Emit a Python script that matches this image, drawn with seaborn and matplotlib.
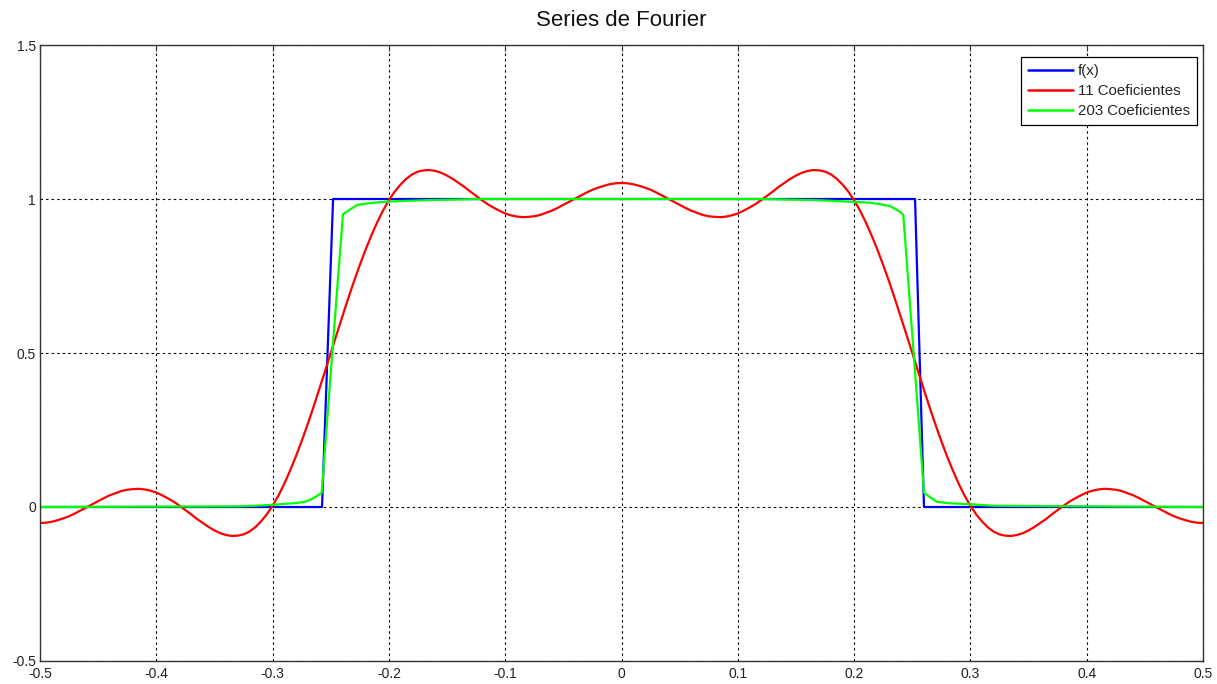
import numpy as np
import pandas as pd
import matplotlib
matplotlib.use("Agg")
import matplotlib.pyplot as plt
import seaborn as sns

# ---------------- data ----------------
title = "Series de Fourier"
labels = ["f(x)", "11 Coeficientes", "203 Coeficientes"]

# f(x): square pulse
x_f = [-0.5, -0.2575, -0.248, 0.2524, 0.2601, 0.5]
y_f = [0.0, 0.0, 1.0, 1.0, 0.0, 0.0]

# 11 coefficients (sampled every 0.005 from -0.5 to 0.5)
x_11 = np.linspace(-0.5, 0.5, 201)
y_11 = [
    # -0.5 ... -0.005
    -0.052, -0.051, -0.048, -0.043, -0.037, -0.030, -0.021, -0.011, -0.001, 0.009,
    0.019, 0.029, 0.038, 0.045, 0.052, 0.056, 0.058, 0.059, 0.057, 0.053,
    0.047, 0.038, 0.028, 0.017, 0.004, -0.010, -0.024, -0.039, -0.052, -0.065,
    -0.076, -0.085, -0.091, -0.094, -0.093, -0.089, -0.080, -0.066, -0.047, -0.024,
    0.004, 0.037, 0.075, 0.118, 0.164, 0.214, 0.267, 0.323, 0.381, 0.440,
    0.500, 0.560, 0.619, 0.677, 0.733, 0.786, 0.836, 0.882, 0.925, 0.963,
    0.996, 1.024, 1.047, 1.066, 1.080, 1.089, 1.093, 1.094, 1.091, 1.085,
    1.076, 1.065, 1.052, 1.039, 1.024, 1.010, 0.996, 0.983, 0.972, 0.962,
    0.953, 0.947, 0.943, 0.941, 0.942, 0.944, 0.948, 0.955, 0.962, 0.971,
    0.981, 0.991, 1.001, 1.011, 1.021, 1.030, 1.037, 1.043, 1.048, 1.051,
    # 0
    1.052,
    # 0.005 ... 0.5
    1.051, 1.048, 1.043, 1.037, 1.030, 1.021, 1.011, 1.001, 0.991, 0.981,
    0.971, 0.962, 0.955, 0.948, 0.944, 0.942, 0.941, 0.943, 0.947, 0.953,
    0.962, 0.972, 0.983, 0.996, 1.010, 1.024, 1.039, 1.052, 1.065, 1.076,
    1.085, 1.091, 1.094, 1.093, 1.089, 1.080, 1.066, 1.047, 1.024, 0.996,
    0.963, 0.925, 0.882, 0.836, 0.786, 0.733, 0.677, 0.619, 0.560, 0.500,
    0.440, 0.381, 0.323, 0.267, 0.214, 0.164, 0.118, 0.075, 0.037, 0.004,
    -0.024, -0.047, -0.066, -0.080, -0.089, -0.093, -0.094, -0.091, -0.085, -0.076,
    -0.065, -0.052, -0.039, -0.024, -0.010, 0.004, 0.017, 0.028, 0.038, 0.047,
    0.053, 0.057, 0.059, 0.058, 0.056, 0.052, 0.045, 0.038, 0.029, 0.019,
    0.009, -0.001, -0.011, -0.021, -0.030, -0.037, -0.043, -0.048, -0.051, -0.052,
]

# 203 coefficients
x_203 = [-0.5, -0.33, -0.31, -0.2936, -0.2793, -0.2721, -0.265, -0.2578, -0.2487,
         -0.2395, -0.2272, -0.2157, -0.1985, -0.17, -0.12, 0.12, 0.17, 0.2137,
         0.2223, 0.2309, 0.2394, 0.2423, 0.2512, 0.2601, 0.2710, 0.2825, 0.2997,
         0.32, 0.5]
y_203 = [0.0, 0.002, 0.005, 0.009, 0.013, 0.017, 0.028, 0.046, 0.5,
         0.951, 0.981, 0.987, 0.992, 0.996, 1.0, 1.0, 0.996, 0.988,
         0.983, 0.977, 0.959, 0.948, 0.5, 0.046, 0.017, 0.012, 0.009,
         0.004, 0.0]

x_ticks = [-0.5, -0.4, -0.3, -0.2, -0.1, 0, 0.1, 0.2, 0.3, 0.4, 0.5]
x_ticklabels = ["-0.5", "-0.4", "-0.3", "-0.2", "-0.1", "0", "0.1", "0.2", "0.3", "0.4", "0.5"]
y_ticks = [-0.5, 0, 0.5, 1, 1.5]
y_ticklabels = ["-0.5", "0", "0.5", "1", "1.5"]

colors = ["#0000ff", "#ff0000", "#00ff00"]

# ---------------- plot ----------------
sns.set_style("white")
plt.rcParams["font.family"] = ["Liberation Sans", "DejaVu Sans"]

fig = plt.figure(figsize=(12.17, 6.84), dpi=100)
ax = fig.add_axes([40 / 1217, 1 - 661 / 684, (1203 - 40) / 1217, (661 - 45) / 684])

sns.lineplot(x=x_f, y=y_f, ax=ax, color=colors[0], lw=1.6, label=labels[0],
             sort=False, estimator=None)
sns.lineplot(x=x_11, y=y_11, ax=ax, color=colors[1], lw=1.6, label=labels[1],
             sort=False, estimator=None)
sns.lineplot(x=x_203, y=y_203, ax=ax, color=colors[2], lw=1.6, label=labels[2],
             sort=False, estimator=None)

ax.set_xlim(-0.5, 0.5)
ax.set_ylim(-0.5, 1.5)
ax.set_xticks(x_ticks)
ax.set_xticklabels(x_ticklabels)
ax.set_yticks(y_ticks)
ax.set_yticklabels(y_ticklabels)
ax.set_xlabel("")
ax.set_ylabel("")

ax.grid(True, color="black", linestyle=(0, (2.2, 2.8)), linewidth=0.8)
ax.set_axisbelow(True)
ax.tick_params(axis="both", direction="in", length=4, width=0.8, colors="#333333",
               labelsize=10, labelcolor="#222222", top=True, right=True)
ax.tick_params(axis="x", pad=4)
ax.tick_params(axis="y", pad=3)
for s in ax.spines.values():
    s.set_visible(True)
    s.set_color("#333333")
    s.set_linewidth(1.0)

ax.set_title(title, fontsize=16, pad=14, color="#111111")

leg = ax.legend(loc="upper right", bbox_to_anchor=((1197 - 40) / 1163, (661 - 57) / 616),
                borderaxespad=0, fontsize=10.8, handlelength=3.0, handletextpad=0.35,
                labelspacing=0.4, borderpad=0.45, frameon=True, fancybox=False,
                framealpha=1, edgecolor="black")
leg.get_frame().set_linewidth(0.9)
for line in leg.get_lines():
    line.set_linewidth(1.8)

fig.savefig("out.png", dpi=100, facecolor="white")
